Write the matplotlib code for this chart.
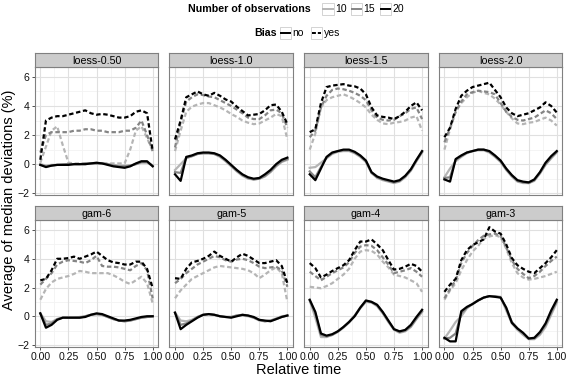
import numpy as np
import matplotlib
matplotlib.use("Agg")
import matplotlib.pyplot as plt
from matplotlib.patches import Rectangle
from matplotlib.lines import Line2D

plt.rcParams['font.family'] = ['Liberation Sans', 'DejaVu Sans']

# relative time grid
t = np.linspace(0, 1, 21)

panels = ["loess-0.50", "loess-1.0", "loess-1.5", "loess-2.0",
          "gam-6", "gam-5", "gam-4", "gam-3"]
n_obs = ["10", "15", "20"]
obs_colors = {"10": "#b5b5b5", "15": "#858585", "20": "#000000"}

# bias = no (solid), per number of observations
no_10 = {
    "loess-0.50": [0.0, -0.1, -0.05, -0.05, 0.0, 0.0, 0.0, 0.0, 0.0, 0.05, 0.05, 0.05, 0.0, -0.05, -0.1, -0.1, -0.1, 0.0, 0.1, 0.1, -0.1],
    "loess-1.0": [-0.4, 0.0, 0.4, 0.55, 0.7, 0.75, 0.75, 0.7, 0.5, 0.2, -0.15, -0.5, -0.8, -1.0, -1.05, -1.0, -0.85, -0.55, -0.15, 0.15, 0.3],
    "loess-1.5": [-0.25, -0.2, 0.1, 0.4, 0.7, 0.85, 0.9, 0.9, 0.75, 0.5, 0.15, -0.6, -0.95, -1.1, -1.2, -1.3, -1.2, -0.9, -0.45, 0.2, 0.8],
    "loess-2.0": [-0.9, -0.3, 0.2, 0.5, 0.75, 0.9, 0.95, 0.95, 0.8, 0.5, 0.15, -0.4, -0.85, -1.2, -1.3, -1.3, -1.15, -0.65, -0.05, 0.4, 0.8],
    "gam-6": [0.2, -0.35, -0.4, -0.2, -0.1, -0.1, -0.1, -0.05, 0.0, 0.1, 0.15, 0.1, -0.05, -0.2, -0.3, -0.35, -0.3, -0.2, -0.1, -0.05, 0.0],
    "gam-5": [0.25, -0.3, -0.35, -0.25, -0.05, 0.1, 0.15, 0.1, 0.0, -0.05, -0.05, 0.05, 0.05, 0.0, -0.1, -0.3, -0.35, -0.3, -0.15, 0.0, 0.05],
    "gam-4": [1.1, -0.1, -1.45, -1.45, -1.3, -1.1, -0.8, -0.45, 0.0, 0.55, 1.0, 0.95, 0.7, 0.2, -0.4, -0.95, -1.15, -1.05, -0.75, -0.2, 0.3],
    "gam-3": [-1.55, -1.0, -0.4, 0.0, 0.55, 0.85, 1.1, 1.3, 1.4, 1.4, 1.35, 0.4, -0.5, -0.95, -1.3, -1.6, -1.6, -1.3, -0.75, 0.1, 0.95],
}
no_15 = {
    "loess-0.50": [-0.05, -0.15, -0.1, -0.05, -0.05, 0.0, 0.0, 0.0, 0.05, 0.05, 0.05, 0.05, 0.0, -0.1, -0.15, -0.15, -0.1, 0.0, 0.15, 0.15, -0.1],
    "loess-1.0": [-0.55, -0.6, 0.45, 0.55, 0.7, 0.75, 0.75, 0.7, 0.55, 0.25, -0.1, -0.45, -0.75, -0.95, -1.05, -1.0, -0.8, -0.5, -0.1, 0.2, 0.35],
    "loess-1.5": [-0.5, -0.9, -0.2, 0.45, 0.75, 0.9, 0.95, 0.95, 0.8, 0.55, 0.2, -0.6, -0.9, -1.05, -1.15, -1.25, -1.15, -0.85, -0.4, 0.25, 0.85],
    "loess-2.0": [-0.95, -0.9, 0.3, 0.55, 0.8, 0.9, 1.0, 1.0, 0.85, 0.55, 0.2, -0.35, -0.8, -1.15, -1.25, -1.3, -1.1, -0.6, 0.0, 0.45, 0.85],
    "gam-6": [0.2, -0.6, -0.5, -0.2, -0.1, -0.1, -0.1, -0.1, 0.0, 0.1, 0.15, 0.1, -0.05, -0.2, -0.3, -0.35, -0.3, -0.2, -0.1, -0.05, 0.0],
    "gam-5": [0.25, -0.6, -0.5, -0.3, -0.05, 0.1, 0.15, 0.1, 0.0, -0.05, -0.05, 0.05, 0.1, 0.05, -0.1, -0.25, -0.35, -0.3, -0.2, -0.05, 0.05],
    "gam-4": [1.1, 0.2, -1.3, -1.4, -1.3, -1.05, -0.75, -0.4, 0.05, 0.6, 1.05, 1.0, 0.75, 0.25, -0.35, -0.9, -1.1, -1.0, -0.7, -0.15, 0.35],
    "gam-3": [-1.55, -1.5, -1.2, 0.2, 0.6, 0.85, 1.1, 1.3, 1.4, 1.4, 1.3, 0.55, -0.4, -0.85, -1.2, -1.55, -1.55, -1.2, -0.6, 0.25, 1.05],
}
no_20 = {
    "loess-0.50": [-0.05, -0.2, -0.1, -0.05, -0.05, -0.05, 0.0, 0.0, 0.0, 0.05, 0.1, 0.05, -0.05, -0.15, -0.2, -0.25, -0.15, 0.05, 0.2, 0.2, -0.15],
    "loess-1.0": [-0.7, -1.15, 0.5, 0.6, 0.75, 0.8, 0.8, 0.75, 0.6, 0.3, -0.05, -0.4, -0.7, -0.9, -1.0, -0.95, -0.7, -0.4, 0.0, 0.3, 0.45],
    "loess-1.5": [-0.7, -1.1, -0.3, 0.5, 0.8, 0.9, 1.0, 1.0, 0.85, 0.6, 0.25, -0.55, -0.85, -1.0, -1.1, -1.2, -1.1, -0.8, -0.35, 0.3, 0.9],
    "loess-2.0": [-1.05, -1.2, 0.35, 0.6, 0.8, 0.9, 1.0, 1.0, 0.9, 0.6, 0.25, -0.3, -0.75, -1.1, -1.2, -1.25, -1.05, -0.55, 0.1, 0.55, 0.9],
    "gam-6": [0.2, -0.8, -0.6, -0.25, -0.1, -0.1, -0.1, -0.1, -0.05, 0.1, 0.2, 0.15, 0.0, -0.15, -0.3, -0.3, -0.25, -0.15, -0.05, 0.0, 0.0],
    "gam-5": [0.25, -0.9, -0.6, -0.35, -0.1, 0.1, 0.15, 0.1, 0.0, -0.05, -0.1, 0.0, 0.1, 0.05, -0.05, -0.25, -0.3, -0.35, -0.2, -0.05, 0.05],
    "gam-4": [1.15, 0.3, -1.2, -1.35, -1.25, -1.05, -0.75, -0.4, 0.0, 0.6, 1.1, 1.0, 0.8, 0.3, -0.3, -0.9, -1.05, -0.95, -0.6, -0.05, 0.45],
    "gam-3": [-1.5, -1.75, -1.75, 0.35, 0.65, 0.85, 1.1, 1.3, 1.4, 1.35, 1.3, 0.6, -0.45, -0.85, -1.15, -1.55, -1.5, -1.1, -0.5, 0.4, 1.15],
}

# bias = yes (dashed), per number of observations
yes_10 = {
    "loess-0.50": [0.1, 1.2, 2.3, 2.6, 1.3, 0.1, 0.05, 0.05, 0.05, 0.05, 0.05, 0.05, 0.05, 0.05, 0.05, 0.05, 1.0, 2.3, 2.6, 1.8, 0.9],
    "loess-1.0": [0.9, 2.3, 3.6, 3.95, 4.1, 4.2, 4.2, 4.05, 3.9, 3.7, 3.45, 3.25, 3.0, 2.85, 2.75, 2.8, 3.0, 3.2, 3.45, 3.3, 1.7],
    "loess-1.5": [1.0, 2.1, 3.9, 4.4, 4.6, 4.7, 4.8, 4.65, 4.45, 4.2, 3.9, 3.4, 3.05, 2.8, 2.75, 2.85, 2.9, 3.0, 3.2, 3.3, 2.3],
    "loess-2.0": [1.0, 2.4, 3.6, 4.2, 4.6, 4.9, 5.05, 4.9, 4.8, 4.5, 4.1, 3.6, 3.15, 2.8, 2.75, 2.85, 2.9, 3.05, 3.2, 3.0, 2.65],
    "gam-6": [1.15, 1.9, 2.35, 2.6, 2.7, 2.8, 2.95, 3.15, 3.1, 3.0, 3.0, 3.0, 3.0, 2.85, 2.65, 2.4, 2.25, 2.5, 2.75, 2.3, 0.9],
    "gam-5": [1.25, 1.8, 2.2, 2.6, 2.8, 3.0, 3.2, 3.4, 3.5, 3.45, 3.4, 3.35, 3.3, 3.2, 3.0, 2.65, 2.9, 3.2, 3.4, 3.0, 1.0],
    "gam-4": [2.05, 2.0, 1.95, 2.1, 2.3, 2.6, 2.9, 3.3, 4.0, 4.5, 4.6, 4.55, 4.3, 3.8, 3.4, 2.9, 2.8, 2.7, 2.5, 2.3, 1.7],
    "gam-3": [1.15, 1.8, 2.3, 3.2, 3.9, 4.5, 4.9, 5.4, 5.55, 5.65, 5.5, 4.7, 3.7, 3.0, 2.7, 2.55, 2.6, 2.7, 2.8, 2.95, 3.1],
}
yes_15 = {
    "loess-0.50": [0.8, 2.0, 2.2, 2.2, 2.2, 2.2, 2.3, 2.3, 2.4, 2.4, 2.3, 2.3, 2.2, 2.2, 2.2, 2.3, 2.3, 2.5, 3.0, 2.0, 0.9],
    "loess-1.0": [1.15, 2.9, 4.3, 4.6, 4.8, 4.75, 4.65, 4.6, 4.4, 4.2, 4.0, 3.75, 3.5, 3.2, 3.1, 3.1, 3.35, 3.7, 3.75, 3.5, 2.5],
    "loess-1.5": [1.85, 2.3, 3.9, 4.7, 5.1, 5.2, 5.15, 5.05, 4.9, 4.7, 4.4, 3.7, 3.2, 3.05, 3.0, 3.05, 3.3, 3.5, 3.8, 3.9, 3.1],
    "loess-2.0": [1.5, 2.5, 3.6, 4.3, 4.8, 4.95, 5.05, 5.0, 4.95, 4.8, 4.2, 3.6, 3.25, 3.05, 3.0, 3.1, 3.2, 3.45, 3.7, 3.5, 3.1],
    "gam-6": [2.2, 2.6, 3.0, 3.6, 3.8, 3.9, 3.85, 3.8, 3.7, 3.9, 4.2, 3.5, 3.45, 3.45, 3.4, 3.3, 3.2, 3.5, 3.7, 3.2, 1.25],
    "gam-5": [2.3, 2.6, 3.0, 3.3, 3.6, 3.8, 4.0, 4.2, 4.1, 3.9, 3.8, 3.95, 4.0, 3.9, 3.7, 3.45, 3.35, 3.4, 3.45, 3.2, 2.05],
    "gam-4": [3.1, 2.8, 2.5, 2.75, 3.0, 3.2, 3.4, 3.75, 4.4, 4.85, 4.95, 4.9, 4.6, 4.1, 3.6, 3.0, 3.1, 3.2, 3.35, 3.1, 2.75],
    "gam-3": [1.25, 1.9, 2.5, 3.7, 4.4, 4.9, 5.3, 5.6, 5.7, 5.75, 5.6, 4.8, 3.9, 3.3, 2.95, 2.65, 2.8, 3.1, 3.5, 3.85, 4.15],
}
yes_20 = {
    "loess-0.50": [0.3, 3.0, 3.2, 3.3, 3.3, 3.4, 3.5, 3.6, 3.7, 3.5, 3.4, 3.45, 3.4, 3.3, 3.2, 3.2, 3.3, 3.6, 3.7, 3.5, 0.9],
    "loess-1.0": [1.7, 3.0, 4.6, 4.8, 5.0, 4.8, 4.7, 4.9, 4.7, 4.45, 4.3, 3.95, 3.65, 3.35, 3.4, 3.45, 3.7, 4.05, 4.1, 3.6, 2.75],
    "loess-1.5": [2.2, 2.4, 4.2, 5.3, 5.4, 5.45, 5.5, 5.4, 5.35, 5.2, 4.8, 3.9, 3.35, 3.25, 3.2, 3.1, 3.3, 3.6, 4.0, 4.25, 3.7],
    "loess-2.0": [1.85, 2.5, 3.8, 4.7, 5.05, 5.3, 5.4, 5.5, 5.6, 5.1, 4.6, 3.9, 3.5, 3.3, 3.4, 3.5, 3.7, 3.9, 4.25, 4.0, 3.55],
    "gam-6": [2.5, 2.6, 3.2, 4.0, 4.0, 4.05, 4.15, 4.0, 4.15, 4.3, 4.5, 4.2, 3.9, 3.75, 3.7, 3.6, 3.6, 3.8, 3.8, 3.3, 1.95],
    "gam-5": [2.65, 2.6, 3.3, 3.75, 3.85, 4.0, 4.2, 4.5, 4.2, 4.0, 3.8, 4.1, 4.35, 4.2, 3.95, 3.7, 3.7, 3.8, 3.9, 3.5, 2.3],
    "gam-4": [3.7, 3.35, 2.7, 2.9, 3.15, 3.35, 3.55, 3.9, 4.6, 5.2, 5.2, 5.35, 5.0, 4.6, 3.9, 3.25, 3.3, 3.45, 3.65, 3.5, 3.1],
    "gam-3": [1.7, 2.2, 2.6, 3.9, 4.6, 4.95, 5.15, 5.35, 6.2, 5.9, 5.75, 5.0, 4.05, 3.55, 3.3, 3.1, 3.0, 3.35, 3.7, 4.1, 4.6],
}

series_no = {"10": no_10, "15": no_15, "20": no_20}
series_yes = {"10": yes_10, "15": yes_15, "20": yes_20}

W, H = 567, 377
fig = plt.figure(figsize=(W / 100, H / 100), dpi=100)


def px_axes(x0, y0, x1, y1):
    # pixel box (top-left origin) -> figure axes
    return fig.add_axes([x0 / W, 1 - y1 / H, (x1 - x0) / W, (y1 - y0) / H])


pw = 123.6
lefts = [34.7 + i * 134.7 for i in range(4)]
rows = [(53.3, 66.7, 195.0), (206.0, 220.0, 346.7)]
dash = (2.0, 1.2)

for k, name in enumerate(panels):
    r, c = divmod(k, 4)
    st, pt, pb = rows[r]
    x0 = lefts[c]
    ax = px_axes(x0, pt, x0 + pw, pb)
    ax.set_facecolor("white")
    ax.set_xlim(-0.05, 1.05)
    ax.set_ylim(-2.12, 6.7)
    for v in [-1, 1, 3, 5]:
        ax.axhline(v, color="#f3f3f3", lw=0.6, zorder=0)
    for v in [0.125, 0.375, 0.625, 0.875]:
        ax.axvline(v, color="#f3f3f3", lw=0.6, zorder=0)
    for v in [-2, 0, 2, 4, 6]:
        ax.axhline(v, color="#e0e0e0", lw=0.8, zorder=0)
    for v in [0, 0.25, 0.5, 0.75, 1.0]:
        ax.axvline(v, color="#e0e0e0", lw=0.8, zorder=0)

    for n in n_obs:
        ax.plot(t, series_no[n][name], color=obs_colors[n], lw=1.6,
                solid_joinstyle="round", zorder=2)
        ax.plot(t, series_yes[n][name], color=obs_colors[n], lw=1.6,
                linestyle=(0, dash), zorder=2)

    for s in ax.spines.values():
        s.set_color("#808080")
        s.set_linewidth(0.8)
    ax.set_xticks([0, 0.25, 0.5, 0.75, 1.0])
    ax.set_yticks([-2, 0, 2, 4, 6])
    ax.tick_params(length=2.5, width=0.6, color="#333333", labelsize=7.6,
                   labelcolor="#111111", pad=1.5)
    if r == 1:
        ax.set_xticklabels(["0.00", "0.25", "0.50", "0.75", "1.00"])
    else:
        ax.tick_params(axis="x", length=0, labelbottom=False)
    if c != 0:
        ax.tick_params(axis="y", length=0, labelleft=False)

    sax = px_axes(x0, st, x0 + pw, pt)
    sax.set_facecolor("#cccccc")
    sax.set_xticks([])
    sax.set_yticks([])
    for s in sax.spines.values():
        s.set_color("#808080")
        s.set_linewidth(0.8)
    sax.text(0.5, 0.45, name, ha="center", va="center", fontsize=7.7,
             transform=sax.transAxes)

fig.text(0.5 * (lefts[0] + lefts[3] + pw) / W, 1 - 370 / H, "Relative time",
         ha="center", va="center", fontsize=10.5)
fig.text(9 / W, 1 - 200 / H, "Average of median deviations (%)",
         ha="center", va="center", rotation=90, fontsize=10.5)

# legends drawn in pixel coordinates
lg = fig.add_axes([0, 0, 1, 1])
lg.set_xlim(0, W)
lg.set_ylim(H, 0)
lg.axis("off")
lg.patch.set_alpha(0)

lg.text(188, 9, "Number of observations", fontsize=7.7, fontweight="bold",
        va="center", ha="left")
for bx, n in zip([322, 350.5, 379.5], n_obs):
    lg.add_patch(Rectangle((bx, 3), 11.5, 12, facecolor="white",
                           edgecolor="#cccccc", lw=0.6))
    lg.add_line(Line2D([bx + 1, bx + 10.5], [9, 9], color=obs_colors[n], lw=1.4))
    lg.text(bx + 13, 9.5, n, fontsize=7.5, va="center", ha="left")

lg.text(254, 33, "Bias", fontsize=7.7, fontweight="bold", va="center", ha="left")
for bx, lab, ls in zip([279.5, 310.5], ["no", "yes"], ["-", (0, (2.0, 1.0))]):
    lg.add_patch(Rectangle((bx, 27), 11.5, 12, facecolor="white",
                           edgecolor="#cccccc", lw=0.6))
    lg.add_line(Line2D([bx + 1, bx + 10.5], [33, 33], color="black", lw=1.4,
                       linestyle=ls))
    lg.text(bx + 13, 33.5, lab, fontsize=7.5, va="center", ha="left")

fig.savefig("out.png", dpi=100)
